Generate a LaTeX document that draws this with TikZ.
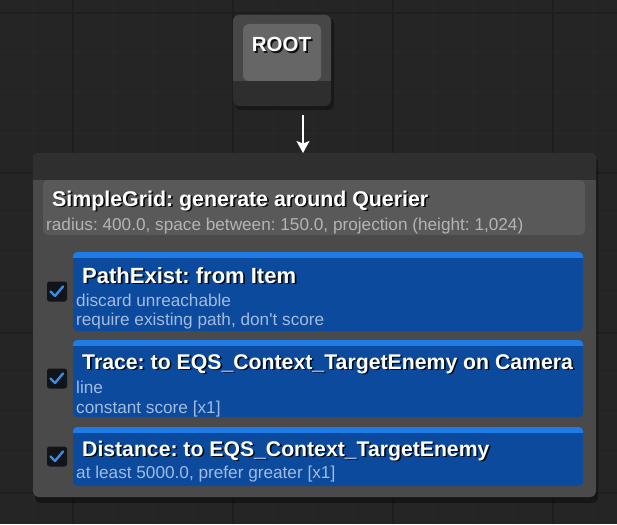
\documentclass[tikz,border=0pt]{standalone}
\usepackage{fontspec}
\setmainfont{Liberation Sans}
\usetikzlibrary{arrows.meta,calc}
\frenchspacing
\definecolor{bg}{HTML}{252525}
\definecolor{gridminor}{HTML}{292929}
\definecolor{gridmajor}{HTML}{1E1E1E}
\definecolor{rootdark}{HTML}{2E2E2E}
\definecolor{roottop}{HTML}{474747}
\definecolor{rootin}{HTML}{666666}
\definecolor{mainbody}{HTML}{4A4A4A}
\definecolor{maintop}{HTML}{2F2F2F}
\definecolor{genfill}{HTML}{595959}
\definecolor{gensub}{HTML}{B4B4B4}
\definecolor{tblue}{HTML}{0C4A9E}
\definecolor{tstripe}{HTML}{1F7CE6}
\definecolor{testsub}{HTML}{A3BBDE}
\definecolor{chkbg}{HTML}{111418}
\definecolor{chkblue}{HTML}{3A8CE4}
\newcommand\shtext[4]{%
  \node[#3, text=black, opacity=0.85] at ($#2+(1.7,1.7)$) {#4};
  \node[#3] (#1) at #2 {#4};}
\newcommand\tsz[1]{\fontsize{#1}{26}\selectfont\bfseries}
\begin{document}
\begin{tikzpicture}[x=1pt,y=-1pt,
  box/.style={inner sep=0pt, outer sep=0pt, anchor=north west},
  ttl/.style={font=\tsz{21.7}, text=white, inner sep=0pt, anchor=base west},
  gsub/.style={font=\fontsize{17.2}{20}\selectfont, text=gensub, inner sep=0pt, anchor=base west},
  tsub/.style={gsub, text=testsub},
  chk/.style={inner sep=0pt, outer sep=0pt, anchor=center, fill=chkbg, rounded corners=2.5pt, minimum size=20pt},
  tick/.style={draw=chkblue, line width=2.4pt, line cap=round, line join=round},
  tbox/.style={box, fill=tblue, rounded corners=4pt, minimum width=510pt},
  arr/.style={draw=white, line width=1.8pt, -{Stealth[length=12pt,width=13pt,inset=2.5pt]}}
]
\useasboundingbox (0,0) rectangle (617,524);
\fill[bg] (0,0) rectangle (617,524);
% grid
\foreach \gx in {33,73,...,613} \draw[gridminor, line width=1pt] (\gx,0) -- (\gx,524);
\foreach \gy in {13,53,...,523} \draw[gridminor, line width=1pt] (0,\gy) -- (617,\gy);
\foreach \gx in {73,233,393,553} \draw[gridmajor, line width=1.6pt] (\gx,0) -- (\gx,524);
\foreach \gy in {13,173,333,493} \draw[gridmajor, line width=1.6pt] (0,\gy) -- (617,\gy);

% ROOT node
\fill[black, opacity=0.35, rounded corners=6pt] (235,18) rectangle (334,110);
\node[box, fill=rootdark, rounded corners=6pt, minimum width=98pt, minimum height=91pt] (root) at (233,15) {};
\begin{scope}
  \clip (0,0) rectangle (617,81);
  \fill[roottop, rounded corners=6pt] (root.north west) rectangle (root.south east);
\end{scope}
\node[box, fill=rootin, rounded corners=6pt, minimum width=78pt, minimum height=57pt] (rootinner) at (243,24) {};
\shtext{roottext}{(281.5,52)}{ttl, anchor=base, font=\tsz{20.5}}{ROOT}

% main container
\fill[black, opacity=0.4, rounded corners=6pt] (35,157) rectangle (598,503);
\node[box, fill=mainbody, rounded corners=6pt, minimum width=563pt, minimum height=344pt] (main) at (33,153) {};
\begin{scope}
  \clip (0,0) rectangle (617,179);
  \fill[maintop, rounded corners=6pt] (main.north west) rectangle (main.south east);
\end{scope}

% arrow
\coordinate (arrstart) at (303,115);
\draw[arr] (arrstart) -- (arrstart |- main.north);

% generator
\node[box, fill=genfill, rounded corners=5pt, minimum width=542pt, minimum height=55pt] (gen) at (43,180) {};
\shtext{gentitle}{(52,206)}{ttl, font=\tsz{21.35}}{SimpleGrid: generate around Querier}
\node[gsub] (gensub) at (46,230) {radius: 400.0, space between: 150.0, projection (height: 1,024)};

% tests
\node[tbox, minimum height=79pt] (t1) at (73,252) {};
\node[tbox, minimum height=77pt] (t2) at (73,340) {};
\node[tbox, minimum height=59pt] (t3) at (73,427) {};
\foreach \t in {t1,t2,t3}{
  \begin{scope}
    \clip (\t.north west) rectangle ($(\t.north east)+(0,5.5)$);
    \fill[tstripe, rounded corners=4pt] (\t.north west) rectangle (\t.south east);
  \end{scope}
}
\shtext{t1title}{(82,283)}{ttl, font=\tsz{22}}{PathExist: from Item}
\node[tsub] (t1a) at (76,306) {discard unreachable};
\node[tsub] (t1b) at (76,325) {require existing path, don\textquotesingle t score};
\shtext{t2title}{(82,369)}{ttl, font=\tsz{21.25}}{Trace: to EQS\_Context\_TargetEnemy on Camera}
\node[tsub] (t2a) at (76,393) {line};
\node[tsub] (t2b) at (76,413) {constant score [x1]};
\shtext{t3title}{(82,456)}{ttl, font=\tsz{21.2}}{Distance: to EQS\_Context\_TargetEnemy}
\node[tsub] (t3a) at (76,478) {at least 5000.0, prefer greater [x1]};

% checkboxes
\coordinate (cx) at (57,0);
\foreach \t/\c in {t1/c1,t2/c2,t3/c3}{
  \node[chk] (\c) at (\t.west -| cx) {};
  \draw[tick] ([shift={(-6.5,0)}]\c.center) -- ([shift={(-2,4.5)}]\c.center) -- ([shift={(6,-5)}]\c.center);
}
\end{tikzpicture}
\end{document}
